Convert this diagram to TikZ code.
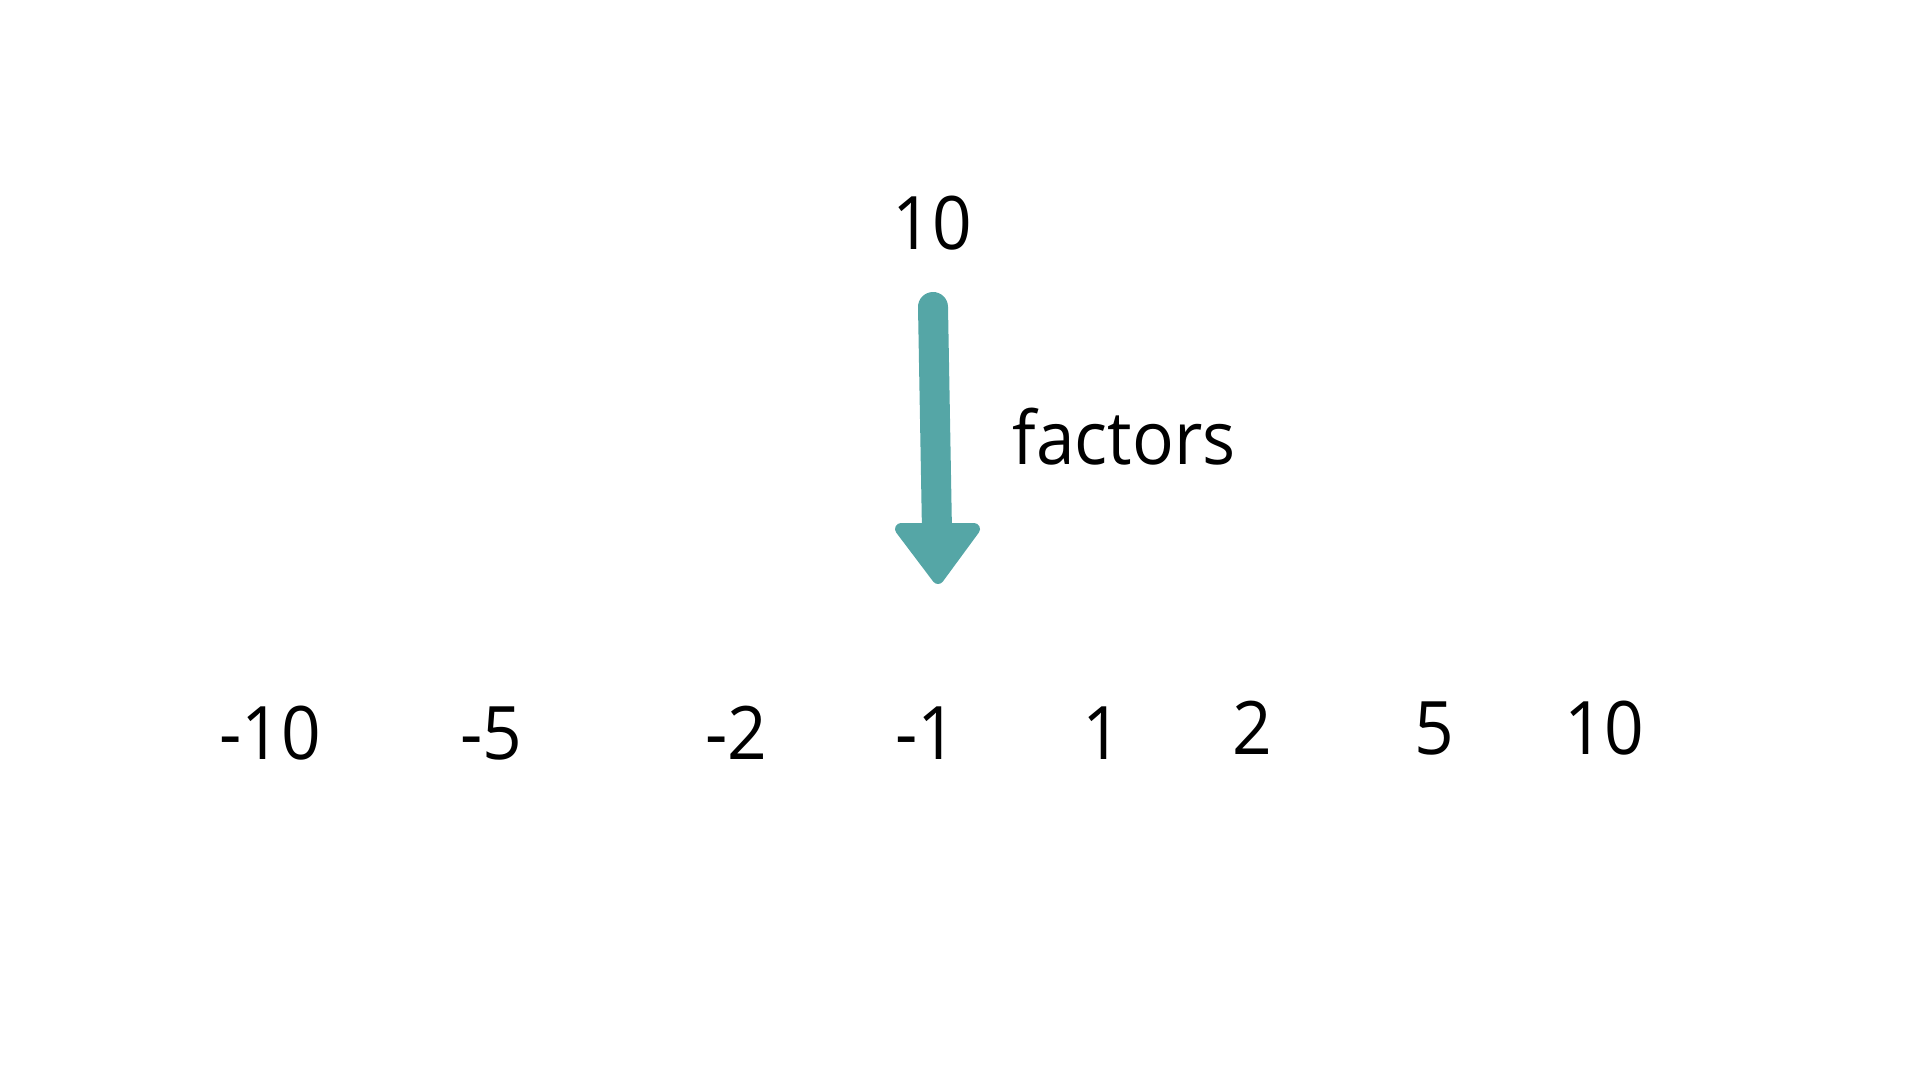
\documentclass[tikz,border=0pt]{standalone}
\usepackage{fontspec}
\setmainfont{Open Sans}[FakeStretch=0.94]
\definecolor{teal}{HTML}{55A6A6}
\tikzset{
    num/.style={inner sep=0pt, anchor=base, font=\fontsize{21}{25}\selectfont},
    word/.style={inner sep=0pt, anchor=base west, font=\fontsize{21}{25}\selectfont}
}
\begin{document}
\begin{tikzpicture}
        \useasboundingbox (0,0) rectangle (19.2,-10.8);

        \node[num] (top) at (9.32,-2.50) {10};

        \coordinate (start) at (9.33,-3.07);
        \coordinate (stop) at (9.37,-5.32);
        \draw[teal, line width=0.3cm, line cap=round] (start) -- (stop);
        \fill[teal, draw=teal, line width=0.12cm, line join=round]
            (9.01,-5.29) -- (9.74,-5.29) -- (9.38,-5.78) -- cycle;
        \node[word] (lbl) at (10.12,-4.65) {factors};

        \node[num] (m10) at (2.70,-7.59) {-10};
        \node[num] (m5) at (4.91,-7.59) {-5};
        \node[num] (m2) at (7.36,-7.59) {-2};
        \node[num] (m1) at (9.26,-7.59) {-1};
        \node[num] (p1) at (11.02,-7.59) {1};
        \node[num] (p2) at (12.52,-7.54) {2};
        \node[num] (p5) at (14.34,-7.54) {5};
        \node[num] (p10) at (16.04,-7.54) {10};
    \end{tikzpicture}
\end{document}
